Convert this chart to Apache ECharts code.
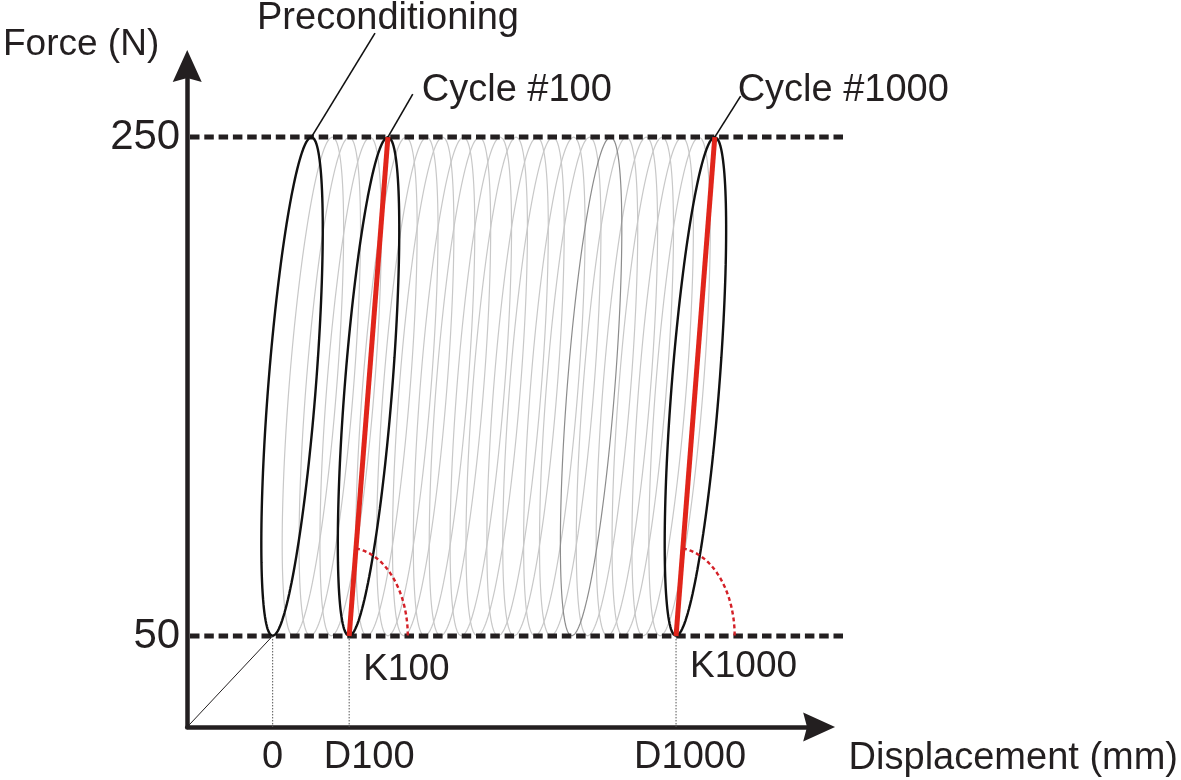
<!DOCTYPE html>
<html><head><meta charset="utf-8">
<script src="https://cdn.jsdelivr.net/npm/echarts@6/dist/echarts.min.js"></script>
<style>html,body{margin:0;padding:0;background:#fff}#c{width:1181px;height:780px}</style>
</head><body><div id="c"></div>
<script>
// ---------------- data ----------------
const forceLevels = [50, 250];                 // min / max force of every cycle (N)
const yTickValues = [50, 250];
const xTickValues = [0, 7.7, 40.6];
const xTickLabels = ['0', 'D100', 'D1000'];
const blackLoops = [0, 7.7, 40.6];              // preconditioning, cycle #100, cycle #1000 (loop base displacement)
const blackLoopNames = ['Preconditioning', 'Cycle #100', 'Cycle #1000'];
const stiffnessLoops = [7.7, 40.6];
const stiffnessNames = ['K100', 'K1000'];
const grayLoops = [2.1, 3.8, 5.9, 9.5, 11.6, 13.2, 15.3, 16.9, 19.0, 20.6, 22.7, 24.3, 26.4, 28.0, 31.7, 33.7, 35.3, 37.3, 39.0];
const darkGrayLoops = [30.1];
const loopShift = 3.9;        // displacement gained from bottom to top of a loop
const loopHalfWidth = 2.4;    // half opening of a loop at mid force
const axisNames = ['Displacement (mm)', 'Force (N)'];

// ---------------- layout constants ----------------
const X_MIN = -8.6, X_MAX = 55.0, X_MAX_GUIDE = 57.4, Y_MIN = 13.5, Y_MAX = 278.5;
const FMIN = forceLevels[0], FMAX = forceLevels[1];
const INK = '#231f20', RED = '#e1251b';
const FONT = 'Liberation Sans';

function loopPoints(base) {
  const pts = [];
  const n = 160;
  for (let i = 0; i <= n; i++) {
    const t = i / n * 2 * Math.PI;
    const s = (1 - Math.cos(t)) / 2;
    pts.push([base + loopShift * s + loopHalfWidth * Math.sin(t), FMIN + (FMAX - FMIN) * s]);
  }
  return pts;
}
function arcPoints(base) {
  const rx = 5.9, ry = 35.3;
  const t0 = Math.atan(rx * (FMAX - FMIN) / (loopShift * ry));
  const pts = [];
  const n = 40;
  for (let i = 0; i <= n; i++) {
    const t = t0 * (1 - i / n);
    pts.push([base + rx * Math.cos(t), FMIN + ry * Math.sin(t)]);
  }
  return pts;
}
function lineSeries(name, data, style, z, axisIndex) {
  const ai = axisIndex || 0;
  return { name, type: 'line', data, showSymbol: false, symbol: 'none', clip: false, silent: true,
    xAxisIndex: ai, yAxisIndex: ai, lineStyle: style, z: z || 2, animation: false };
}

const series = [];
grayLoops.forEach((b, i) => series.push(lineSeries('gray' + i, loopPoints(b), { color: '#c8c8c8', width: 1.2 }, 2)));
darkGrayLoops.forEach((b, i) => series.push(lineSeries('darkgray' + i, loopPoints(b), { color: '#8c8c8c', width: 1.2 }, 2)));
forceLevels.forEach((f, i) => series.push(lineSeries('level' + i, [[X_MIN + 0.5, f], [X_MAX_GUIDE, f]],
  { color: INK, width: 5, type: [9.5, 4.8] }, 3, 1)));
xTickValues.forEach((x, i) => series.push(lineSeries('drop' + i, [[x, FMIN], [x, Y_MIN]],
  { color: '#555', width: 1, type: [1.5, 1.5] }, 3)));
series.push(lineSeries('initial', [[X_MIN, Y_MIN], [blackLoops[0], FMIN]], { color: INK, width: 1 }, 3));
blackLoops.forEach((b, i) => series.push(lineSeries('black' + i, loopPoints(b), { color: '#111', width: 2.4 }, 4)));
const leaderDelta = [[6.4, 41.7], [2.5, 17.2], [2.6, 16.4]];
const leaderEnds = blackLoops.map((b, i) => [b + loopShift + leaderDelta[i][0], FMAX + leaderDelta[i][1]]);
blackLoops.forEach((b, i) => series.push(lineSeries('leader' + i, [[b + loopShift, FMAX], leaderEnds[i]], { color: '#111', width: 1.6 }, 4)));
stiffnessLoops.forEach((b, i) => {
  series.push(lineSeries('stiff' + i, [[b, FMIN], [b + loopShift, FMAX]], { color: RED, width: 5, cap: 'butt' }, 5));
  series.push(lineSeries('arc' + i, arcPoints(b), { color: '#d42027', width: 2.4, type: [4, 3] }, 5));
});

const labelBase = { show: true, formatter: '{b}', fontFamily: FONT, fontSize: 38, color: INK, opacity: 1, distance: 0 };
const annoLabel = [
  { position: 'top', offset: [13, 4] },
  { position: 'right', offset: [9, -4] },
  { position: 'right', offset: [-3, -6] }
];
const annoData = blackLoopNames.map((n, i) => ({ name: n, value: leaderEnds[i],
  label: Object.assign({}, labelBase, annoLabel[i]) }));
const kLabel = [ { offset: [14, 34] }, { offset: [14, 31] } ];
stiffnessNames.forEach((n, i) => annoData.push({ name: n, value: [stiffnessLoops[i], FMIN],
  label: Object.assign({}, labelBase, { position: 'right', fontSize: 37 }, kLabel[i]) }));
series.push({ name: 'annotations', type: 'scatter', data: annoData, symbolSize: 0, clip: false, silent: true, z: 6,
  itemStyle: { opacity: 1 }, label: labelBase, emphasis: { disabled: true } });

const arrowPath = 'path://M15,0 L30,33 L15,29 L0,33 Z';
const hiddenAxis = { show: false, type: 'value', splitLine: { show: false } };
const chart = echarts.init(document.getElementById('c'), null, { renderer: 'canvas' });
chart.setOption({
  backgroundColor: '#fff',
  animation: false,
  grid: [
    { left: 185, right: 359.5, top: 66, bottom: 53 },
    { left: 185, right: 1181 - 185 - (X_MAX_GUIDE - X_MIN) * (1181 - 185 - 359.5) / (X_MAX - X_MIN), top: 66, bottom: 53 }
  ],
  xAxis: [{
    type: 'value', min: X_MIN, max: X_MAX, gridIndex: 0,
    name: axisNames[0], nameLocation: 'end', nameGap: 29.5,
    nameTextStyle: { fontFamily: FONT, fontSize: 38, color: INK, align: 'left', verticalAlign: 'top', padding: [13, 0, 0, 0] },
    axisLine: { show: true, onZero: false, lineStyle: { color: INK, width: 4.5 }, symbol: ['none', arrowPath], symbolSize: [29, 33] },
    axisTick: { show: false }, splitLine: { show: false },
    axisLabel: {
      customValues: xTickValues, margin: 12, fontFamily: FONT, fontSize: 38, color: INK,
      formatter: v => {
        let k = 0;
        xTickValues.forEach((t, i) => { if (Math.abs(t - v) < Math.abs(xTickValues[k] - v)) k = i; });
        return '{l' + k + '|' + xTickLabels[k] + '}';
      },
      rich: {
        l0: { fontFamily: FONT, fontSize: 38, color: INK },
        l1: { fontFamily: FONT, fontSize: 38, color: INK, padding: [0, 0, 0, 40] },
        l2: { fontFamily: FONT, fontSize: 38, color: INK, padding: [0, 0, 0, 28] }
      }
    }
  }, Object.assign({ gridIndex: 1, min: X_MIN, max: X_MAX_GUIDE }, hiddenAxis)],
  yAxis: [{
    type: 'value', min: Y_MIN, max: Y_MAX, gridIndex: 0,
    name: axisNames[1], nameLocation: 'end', nameGap: 21,
    nameTextStyle: { fontFamily: FONT, fontSize: 37, color: INK, align: 'right', verticalAlign: 'middle', padding: [0, 28, 0, 0] },
    axisLine: { show: true, onZero: false, lineStyle: { color: INK, width: 4.5 }, symbol: ['none', arrowPath], symbolSize: [29, 33] },
    axisTick: { show: false }, splitLine: { show: false },
    axisLabel: { customValues: yTickValues, margin: 7, fontFamily: FONT, fontSize: 42, color: INK }
  }, Object.assign({ gridIndex: 1, min: Y_MIN, max: Y_MAX }, hiddenAxis)],
  series
});
</script></body></html>
